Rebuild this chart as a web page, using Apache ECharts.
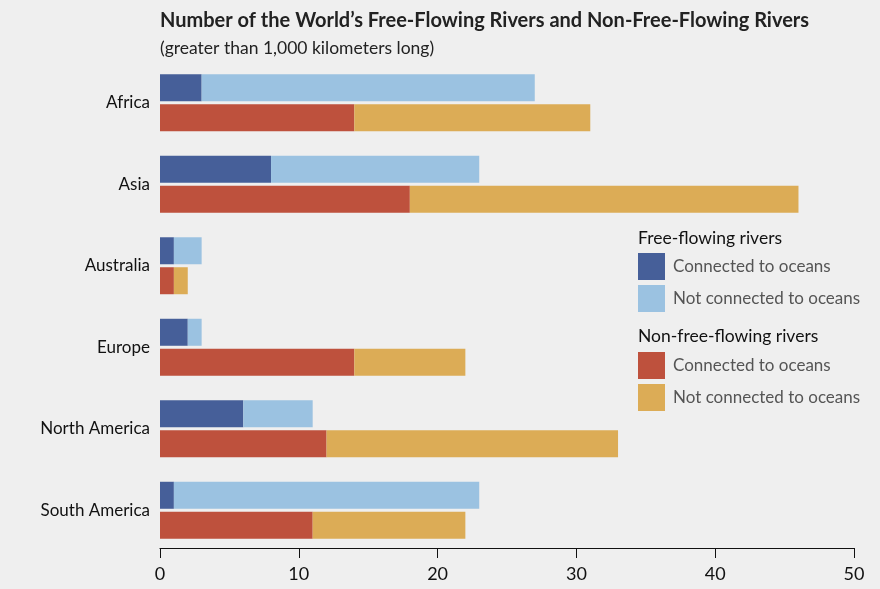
<!DOCTYPE html>
<html>
<head>
<meta charset="utf-8">
<script src="https://cdn.jsdelivr.net/npm/echarts@6/dist/echarts.min.js"></script>
<style>
html,body{margin:0;padding:0;background:#efefef;}
#chart{width:880px;height:589px;}
</style>
</head>
<body>
<div id="chart"></div>
<script>
const categories = ['Africa', 'Asia', 'Australia', 'Europe', 'North America', 'South America'];
const freeConnected = [3, 8, 1, 2, 6, 1];
const freeNotConnected = [24, 15, 2, 1, 5, 22];
const nonFreeConnected = [14, 18, 1, 14, 12, 11];
const nonFreeNotConnected = [17, 28, 1, 8, 21, 11];
const xTicks = [0, 10, 20, 30, 40, 50];

const FONT = 'Lato, "Liberation Sans", sans-serif';
const colors = ['#465f99', '#9bc2e1', '#be513d', '#dcac56'];
const names = ['F|Connected to oceans', 'F|Not connected to oceans', 'N|Connected to oceans', 'N|Not connected to oceans'];

const chart = echarts.init(document.getElementById('chart'));
function bar(name, stack, data, color) {
  return {
    name, type: 'bar', stack, data, barWidth: 27, barGap: '11%',
    itemStyle: { color }, emphasis: { disabled: true }, animation: false
  };
}
chart.setOption({
  backgroundColor: '#efefef',
  animation: false,
  title: [
    { text: 'Number of the World\u2019s Free-Flowing Rivers and Non-Free-Flowing Rivers', left: 160, top: 11, padding: 0,
      textStyle: { fontFamily: FONT, fontWeight: 'bold', fontSize: 20, color: '#222' } },
    { text: '(greater than 1,000 kilometers long)', left: 160, top: 39, padding: 0,
      textStyle: { fontFamily: FONT, fontWeight: 'normal', fontSize: 17.5, color: '#222' } }
  ],
  grid: { left: 160, top: 62, width: 694, height: 489, containLabel: false },
  xAxis: {
    type: 'value', min: 0, max: 50, interval: 10, offset: -3,
    axisLine: { show: true, lineStyle: { color: '#111', width: 1.2 } },
    axisTick: { show: true, length: 10, inside: false, lineStyle: { color: '#111' } },
    splitLine: { show: false },
    axisLabel: { margin: 17, fontFamily: FONT, fontSize: 18, color: '#111',
      formatter: v => xTicks.includes(v) ? String(v) : '' }
  },
  yAxis: {
    type: 'category', data: categories, inverse: true,
    axisLine: { show: false }, axisTick: { show: false },
    axisLabel: { margin: 10, fontFamily: FONT, fontSize: 17, color: '#111' }
  },
  legend: [
    { orient: 'vertical', left: 638, top: 253, padding: 0, itemWidth: 27, itemHeight: 27, itemGap: 5,
      data: [names[0], names[1]], icon: 'rect', selectedMode: false,
      formatter: n => n.split('|')[1],
      textStyle: { fontFamily: FONT, fontSize: 17, color: '#555', padding: [2, 0, 0, 3] } },
    { orient: 'vertical', left: 638, top: 352, padding: 0, itemWidth: 27, itemHeight: 27, itemGap: 5,
      data: [names[2], names[3]], icon: 'rect', selectedMode: false,
      formatter: n => n.split('|')[1],
      textStyle: { fontFamily: FONT, fontSize: 17, color: '#555', padding: [2, 0, 0, 3] } }
  ],
  graphic: [
    { type: 'text', left: 638, top: 229, style: { text: 'Free-flowing rivers', font: '17.5px ' + FONT, fill: '#111' } },
    { type: 'text', left: 638, top: 327, style: { text: 'Non-free-flowing rivers', font: '17.5px ' + FONT, fill: '#111' } }
  ],
  series: [
    bar(names[0], 'free', freeConnected, colors[0]),
    bar(names[1], 'free', freeNotConnected, colors[1]),
    bar(names[2], 'non', nonFreeConnected, colors[2]),
    bar(names[3], 'non', nonFreeNotConnected, colors[3])
  ]
});
</script>
</body>
</html>
